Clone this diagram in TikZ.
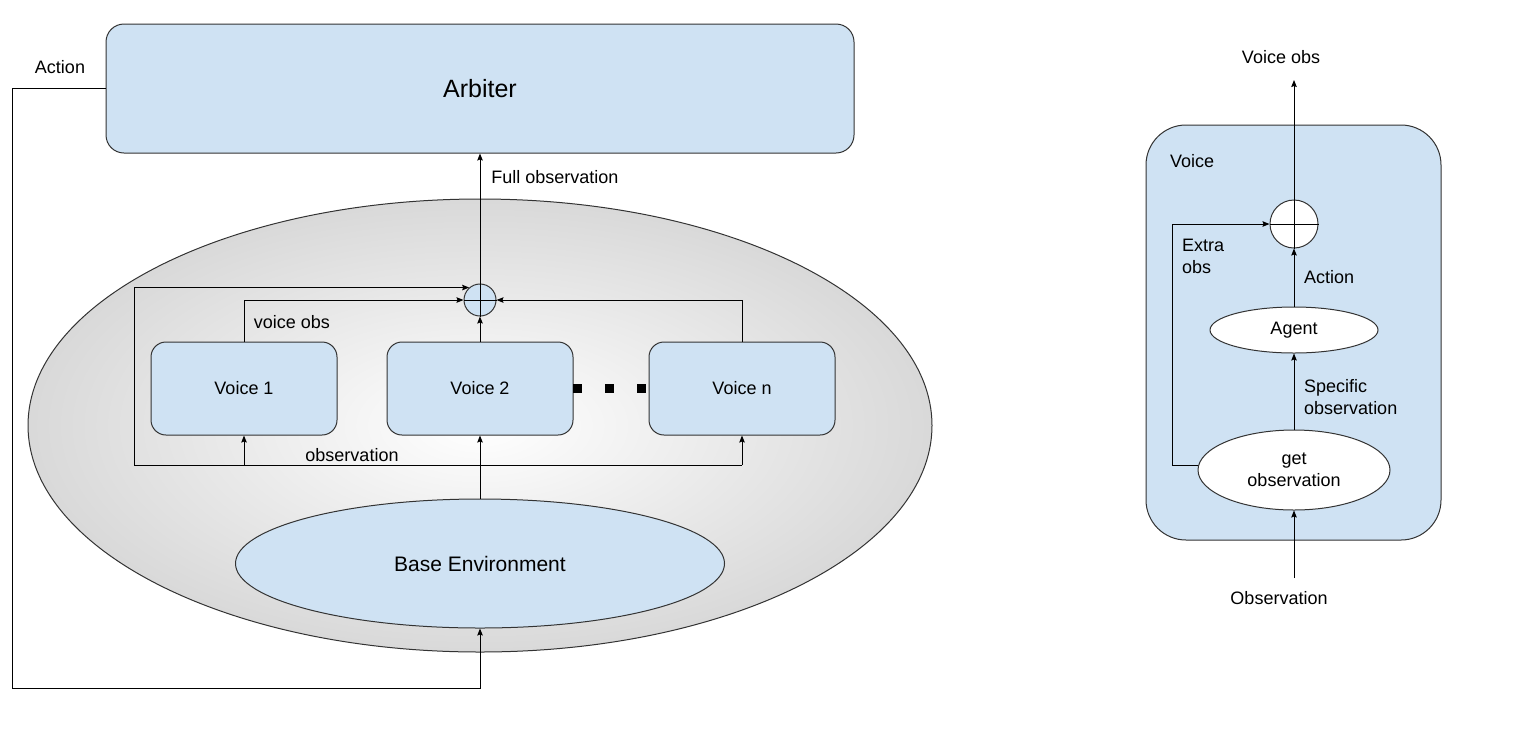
\documentclass[tikz,border=0pt]{standalone}
\usepackage{fontspec}
\setmainfont{Liberation Sans}
\usetikzlibrary{arrows.meta,shapes.geometric}
\definecolor{lb}{HTML}{CFE2F3}
\definecolor{bd}{HTML}{333333}
\pgfdeclareradialshading{envshade}{\pgfpoint{0bp}{0bp}}{color(0bp)=(white); color(50bp)=(black!30); color(80bp)=(black!30)}
\tikzset{
  box/.style={draw=bd, fill=lb, line width=1pt, inner sep=0pt, font=\fontsize{18}{22}\selectfont},
  oval/.style={ellipse, draw=bd, line width=1pt, inner sep=0pt, font=\fontsize{18}{22}\selectfont, align=center},
  plus/.style={circle, draw=bd, line width=1pt, inner sep=0pt},
  arr/.style={line width=1pt, -{Stealth[length=7pt,width=5.5pt,inset=1pt]}},
  ln/.style={line width=1pt},
  lbl/.style={font=\fontsize{18}{22}\selectfont, inner sep=0pt},
}
\begin{document}
\begin{tikzpicture}[x=1pt,y=-1pt]
\useasboundingbox (0,0) rectangle (1522,729);
% ---------- left diagram ----------
\node[box, rounded corners=18pt, minimum width=748pt, minimum height=129pt, font=\fontsize{25}{30}\selectfont] (arb) at (480,88.5) {Arbiter};
\node[lbl] (actlbl) at (60,67) {Action};
\path[draw=bd, line width=1pt, shading=envshade] (480,425.5) ellipse [x radius=452, y radius=226.5];
\node[oval, fill=lb, minimum width=489pt, minimum height=129pt, font=\fontsize{21}{25}\selectfont] (be) at (480,563.5) {Base Environment};
\node[box, rounded corners=15pt, minimum width=186pt, minimum height=93pt] (v1) at (244,388.5) {Voice 1};
\node[box, rounded corners=15pt, minimum width=186pt, minimum height=93pt] (v2) at (480,388.5) {Voice 2};
\node[box, rounded corners=15pt, minimum width=186pt, minimum height=93pt] (vn) at (742,388.5) {Voice n};
\node[plus, fill=lb, minimum size=32pt] (p) at (480,300) {};
\draw[ln] (p.north) -- (p.south);
\draw[ln] (p.west) -- (p.east);
% dots
\fill (573,384) rectangle ++(9,9);
\fill (605,384) rectangle ++(9,9);
\fill (637,384) rectangle ++(9,9);
% action loop
\coordinate (al) at (12,688);
\draw[arr] (arb.west) -| (al) -| (be.south);
% observation distribution
\coordinate (obsL) at (134,465);
\draw[arr] (be.north) -- (v2.south);
\draw[ln] (obsL) -- (vn.south |- obsL);
\draw[arr] (v1.south |- obsL) -- (v1.south);
\draw[arr] (vn.south |- obsL) -- (vn.south);
\draw[arr] (obsL) |- (p.131);
\draw[arr] (v1.north) |- (p.west);
\draw[arr] (vn.north) |- (p.east);
\draw[arr] (v2.north) -- (p.south);
\draw[arr] (p.north) -- (arb.south);
\node[lbl] at (292,322) {voice obs};
\node[lbl] at (352,455) {observation};
\node[lbl] at (555,177) {Full observation};
% ---------- right diagram ----------
\node[box, rounded corners=40pt, minimum width=295pt, minimum height=415pt] (vb) at (1293.5,332.5) {};
\node[lbl] at (1192,161) {Voice};
\node[plus, fill=white, minimum size=48pt] (p2) at (1294,224) {};
\draw[ln] (p2.north) -- (p2.south);
\draw[ln] (p2.west) -- (p2.east);
\node[oval, fill=white, minimum width=168pt, minimum height=46pt] (ag) at (1294,330) {\raisebox{-2pt}{Agent}};
\node[oval, fill=white, minimum width=192pt, minimum height=80pt] (go) at (1294,470) {get\\observation};
\coordinate (vo) at (1294,80);
\draw[arr] (p2.north) -- (vo);
\node[lbl] at (1281,57) {Voice obs};
\draw[arr] (ag.north) -- (p2.south);
\node[lbl] at (1329,277) {Action};
\draw[arr] (go.north) -- (ag.south);
\node[lbl, anchor=west, align=left] at (1304,397) {Specific\\observation};
\coordinate (eo) at (1172,465);
\draw[arr] ([yshift=5pt]go.west) -- (eo) |- (p2.west);
\node[lbl, anchor=west, align=left] at (1182,256) {Extra\\obs};
\coordinate (ob) at (1294,578);
\draw[arr] (ob) -- (go.south);
\node[lbl] at (1279,598) {Observation};
\end{tikzpicture}
\end{document}
